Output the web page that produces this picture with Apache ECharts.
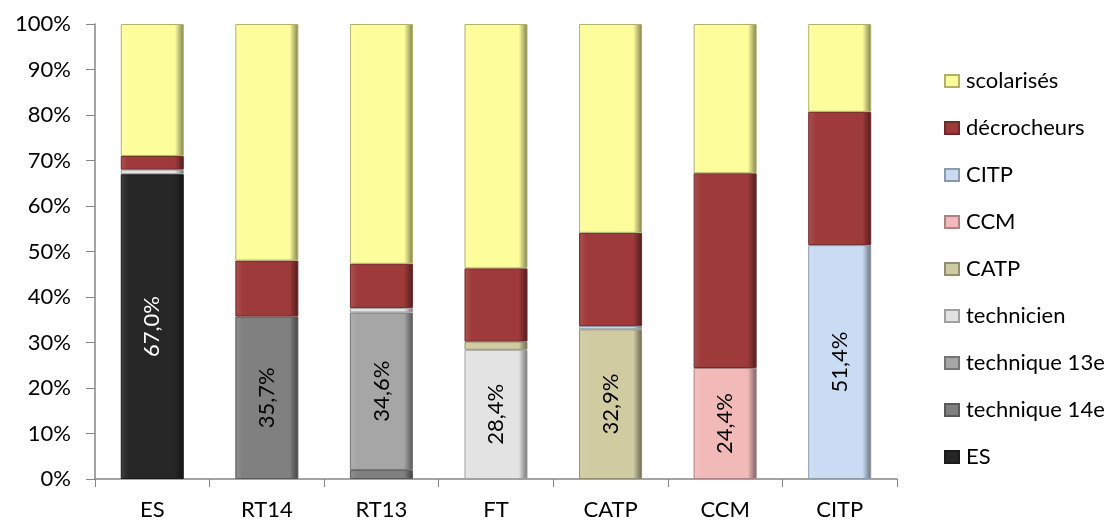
<!DOCTYPE html>
<html>
<head>
<meta charset="utf-8">
<script src="https://cdn.jsdelivr.net/npm/echarts@6/dist/echarts.min.js"></script>
<style>
  html, body { margin: 0; padding: 0; background: #fff; }
  #chart { width: 1119px; height: 528px; }
</style>
</head>
<body>
<div id="chart"></div>
<script>
// categories (x axis)
const categories = ['ES', 'RT14', 'RT13', 'FT', 'CATP', 'CCM', 'CITP'];

// series values in %, bottom to top of the stack
const esVals = [67.0, 0, 0, 0, 0, 0, 0];
const tech14Vals = [0, 35.7, 2.0, 0, 0, 0, 0];
const tech13Vals = [0, 0, 34.6, 0, 0, 0, 0];
const technicienVals = [1.0, 0, 1.0, 28.4, 0, 0, 0];
const catpVals = [0, 0, 0, 1.8, 32.9, 0, 0];
const ccmVals = [0, 0, 0, 0, 0, 24.4, 0];
const citpVals = [0, 0, 0, 0, 0.7, 0, 51.4];
const decrocheursVals = [3.0, 12.3, 9.7, 16.1, 20.5, 42.8, 29.3];
const scolarisesVals = [29.0, 52.0, 52.7, 53.7, 45.9, 32.8, 19.3];

const yTicks = [0, 10, 20, 30, 40, 50, 60, 70, 80, 90, 100];

// which category gets the value label for a series (-1 = none)
const seriesDefs = [
  { name: 'ES', data: esVals, color: '#262626', label: 0, labelColor: '#fff' },
  { name: 'technique 14e', data: tech14Vals, color: '#808080', label: 1, labelColor: '#000' },
  { name: 'technique 13e', data: tech13Vals, color: '#a6a6a6', label: 2, labelColor: '#000' },
  { name: 'technicien', data: technicienVals, color: '#e3e3e3', label: 3, labelColor: '#000' },
  { name: 'CATP', data: catpVals, color: '#d0cba1', label: 4, labelColor: '#000' },
  { name: 'CCM', data: ccmVals, color: '#f2b9b9', label: 5, labelColor: '#000' },
  { name: 'CITP', data: citpVals, color: '#c9dcf3', label: 6, labelColor: '#000' },
  { name: 'décrocheurs', data: decrocheursVals, color: '#9e3a3a', label: -1, labelColor: '#000' },
  { name: 'scolarisés', data: scolarisesVals, color: '#fdfd9c', label: -1, labelColor: '#000' },
];

const shade = (hex, f) => {
  const n = parseInt(hex.slice(1), 16);
  let r = (n >> 16) & 255, g = (n >> 8) & 255, b = n & 255;
  const m = (c) => Math.max(0, Math.min(255, Math.round(f < 0 ? c * (1 + f) : c + (255 - c) * f)));
  return `rgb(${m(r)},${m(g)},${m(b)})`;
};

const fmt = (v) => v.toFixed(1).replace('.', ',') + '%';

const chart = echarts.init(document.getElementById('chart'));

const series = seriesDefs.map((s) => ({
  name: s.name,
  type: 'bar',
  stack: 'total',
  barWidth: '55%',
  data: s.data.map((v) => (v === 0 ? null : v)),
  itemStyle: {
    color: new echarts.graphic.LinearGradient(0, 0, 1, 0, [
      { offset: 0, color: shade(s.color, 0.12) },
      { offset: 0.12, color: s.color },
      { offset: 0.86, color: s.color },
      { offset: 1, color: shade(s.color, -0.5) },
    ]),
    borderColor: shade(s.color, -0.3),
    borderWidth: 1,
  },
  label: {
    show: true,
    position: 'inside',
    rotate: 90,
    color: s.labelColor,
    fontSize: 22,
    fontFamily: 'Lato',
    formatter: (p) => (p.dataIndex === s.label ? fmt(p.value) : ''),
  },
}));

const option = {
  animation: false,
  backgroundColor: '#fff',
  grid: { left: 95, right: 222, top: 24, bottom: 49 },
  legend: {
    orient: 'vertical',
    left: 939,
    top: 65,
    itemWidth: 14,
    itemHeight: 12,
    itemGap: 25,
    icon: 'rect',
    textStyle: { fontSize: 22, fontFamily: 'Lato', color: '#000', padding: [0, 0, 0, 2] },
    data: seriesDefs.map((s) => s.name).reverse(),
  },
  xAxis: {
    type: 'category',
    data: categories,
    axisLine: { lineStyle: { color: '#868686', width: 1.5 } },
    axisTick: { show: true, length: 8, lineStyle: { color: '#868686' } },
    axisLabel: { fontSize: 22, fontFamily: 'Lato', color: '#000', margin: 20 },
  },
  yAxis: {
    type: 'value',
    min: yTicks[0],
    max: yTicks[yTicks.length - 1],
    interval: 10,
    splitLine: { show: false },
    axisLine: { show: true, lineStyle: { color: '#868686', width: 1.5 } },
    axisTick: { show: true, length: 9, inside: false, lineStyle: { color: '#868686' } },
    axisLabel: { fontSize: 22, fontFamily: 'Lato', color: '#000', margin: 24, formatter: '{value}%' },
  },
  series: series,
};

chart.setOption(option);
</script>
</body>
</html>
